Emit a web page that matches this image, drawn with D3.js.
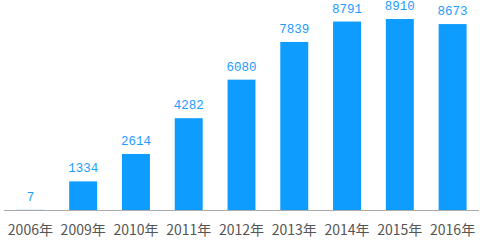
<!DOCTYPE html>
<html><head><meta charset="utf-8">
<script src="https://cdn.jsdelivr.net/npm/d3@7"></script>
<style>body{margin:0;background:#fff}svg{display:block}</style>
</head><body>
<script>
const categories = ["2006年","2009年","2010年","2011年","2012年","2013年","2014年","2015年","2016年"];
const values = [7,1334,2614,4282,6080,7839,8791,8910,8673];

const W = 494, H = 242;
const svg = d3.select("body").append("svg").attr("width", W).attr("height", H);
const x = d3.scaleBand().domain(categories).range([4, 479]).paddingInner(0.47).paddingOuter(0.235);
const y = d3.scaleLinear().domain([0, 8910]).range([210, 19]);

svg.selectAll("rect.bar").data(values).enter().append("rect")
  .attr("x", (d,i) => x(categories[i]))
  .attr("width", x.bandwidth())
  .attr("y", d => y(d))
  .attr("height", d => Math.max(1, 210 - y(d)))
  .attr("fill", "#0f9cff");

svg.selectAll("text.val").data(values).enter().append("text")
  .attr("x", (d,i) => x(categories[i]) + x.bandwidth()/2)
  .attr("y", d => y(d) - 9)
  .attr("text-anchor", "middle")
  .attr("font-family", "Liberation Mono, monospace")
  .attr("font-size", 12.5)
  .attr("fill", "#1e9bff")
  .text(d => d);

const ax = svg.append("g").attr("transform", "translate(0,210)")
  .call(d3.axisBottom(x).tickSize(0).tickPadding(15));
ax.select(".domain").attr("stroke", "#aaa").attr("d", "M4,0.5H479");
ax.selectAll("text").attr("font-family", "Noto Sans CJK SC, sans-serif").attr("font-size", 14).attr("fill", "#555");
</script>
</body></html>
